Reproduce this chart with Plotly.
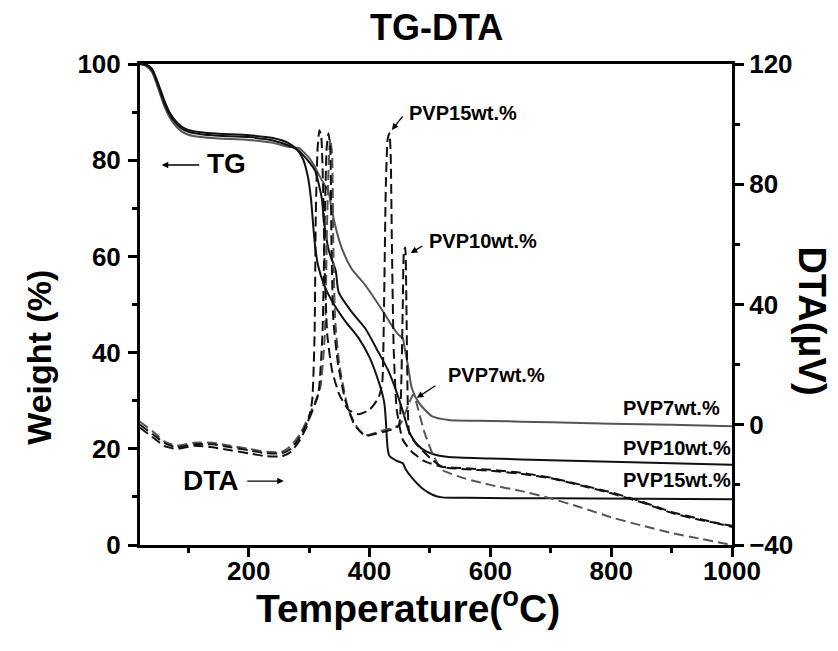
import plotly.graph_objects as go

# ---------------- data ----------------
# TG curves (left axis, Weight %)
tg15_x = [20, 30, 40, 50, 60, 70, 80, 90, 100, 120, 150, 200, 240, 265, 280, 290, 298, 303, 307, 310, 315, 325, 338, 360, 382, 400, 415, 422, 425, 427, 430, 433, 445, 455, 460, 470, 487, 505, 520, 560, 700, 850, 1000]
tg15_y = [100, 99.9, 99.0, 96.0, 92.5, 89.7, 88.0, 86.9, 86.3, 85.8, 85.5, 85.2, 84.6, 83.6, 82.2, 80.2, 76.5, 72, 66, 62, 58, 54, 50.7, 46.5, 43, 39, 34, 31, 29, 25.8, 20, 18.5, 17.5, 17, 15.7, 14, 11.8, 10.4, 9.9, 9.8, 9.7, 9.6, 9.5]

tg10_x = [20, 30, 40, 50, 60, 70, 80, 90, 100, 120, 150, 200, 240, 265, 280, 292, 302, 310, 316, 321, 324, 327, 333, 344, 349, 370, 393, 415, 432, 448, 457, 465, 478, 493, 510, 531, 600, 700, 800, 900, 1000]
tg10_y = [100, 99.8, 98.7, 95.6, 92.0, 89.3, 87.6, 86.5, 85.9, 85.4, 85.1, 84.8, 84.1, 83.1, 82.2, 80.8, 79.3, 77.8, 75, 72, 68, 65, 61, 57, 52.5, 48.5, 45, 40, 36, 30.6, 27, 23.7, 21, 19.5, 18.7, 18.3, 18.0, 17.6, 17.3, 17.0, 16.7]

tg7_x = [20, 30, 40, 50, 60, 70, 80, 90, 100, 120, 150, 200, 240, 265, 283, 300, 310, 316, 325, 332, 337, 345, 354, 370, 393, 420, 440, 448, 455, 458, 464, 470, 482, 503, 531, 600, 700, 800, 900, 1000]
tg7_y = [100, 99.6, 98.3, 95.0, 91.3, 88.7, 87.0, 85.9, 85.3, 84.8, 84.5, 84.2, 83.6, 82.8, 82.5, 80.5, 78.5, 77, 75, 73.5, 70, 65.5, 61.7, 57.5, 54, 49, 45, 43.7, 43, 41, 37, 32.6, 29.5, 26.8, 26, 25.8, 25.5, 25.2, 25.0, 24.7]

# DTA curves (right axis, microvolt)
dta15_x = [20, 40, 60, 80, 110, 140, 170, 200, 230, 255, 270, 285, 297, 305, 309, 311, 314, 317, 320, 323, 326, 330, 338, 350, 365, 382, 400, 415, 421, 424, 427, 430, 433, 435, 437, 440, 445, 455, 470, 490, 520, 560, 600, 650, 700, 750, 800, 850, 900, 950, 1000]
dta15_y = [-1, -4, -7, -8, -7, -7.5, -8.5, -9.5, -10.5, -10.5, -9, -5, 0, 8, 30, 70, 92, 98, 96, 80, 50, 30, 18, 10, 5, 3.5, 5, 9, 14, 40, 80, 95, 97, 90, 60, 25, 5, -5, -9, -12, -14, -14.5, -15, -16, -17.6, -20, -22.5, -25.5, -29, -31.5, -34]

dta10_x = [20, 40, 60, 80, 110, 140, 170, 200, 230, 255, 270, 285, 300, 315, 322, 326, 329, 332, 335, 337, 340, 348, 360, 375, 393, 410, 430, 448, 452, 455, 457, 459, 461, 463, 466, 480, 500, 520, 560, 600, 650, 700, 750, 800, 850, 900, 950, 1000]
dta10_y = [0, -3, -6, -7.5, -6.5, -6.5, -7.5, -8.5, -9.5, -9.5, -8, -4, 2, 10, 30, 70, 92, 97, 92, 60, 35, 20, 8, 0, -3.7, -3, -2, -0.5, 10, 40, 58, 59, 40, 10, -3, -7, -11, -14, -14.8, -15.3, -16.3, -17.8, -20.2, -22.8, -25.8, -29.3, -31.8, -33.6]

dta7_x = [20, 40, 60, 80, 110, 140, 170, 200, 230, 255, 270, 285, 300, 318, 326, 330, 333, 335, 338, 340, 343, 350, 365, 380, 393, 420, 450, 465, 472, 478, 490, 505, 520, 560, 600, 650, 700, 750, 800, 850, 900, 950, 1000]
dta7_y = [1, -2, -5.5, -7, -6, -6, -7, -8, -9, -9, -7, -3, 3, 12, 30, 70, 90, 95, 90, 60, 35, 20, 5, -1, -3.5, -2, 0, 7, 10, 7, -2, -10, -15, -18, -20, -22, -24.5, -27.5, -30.8, -33.5, -36, -38, -40]

x_ticks = [200, 400, 600, 800, 1000]
y_ticks = [0, 20, 40, 60, 80, 100]
y2_ticks = [-40, 0, 40, 80, 120]

BLACK = "#111111"
GRAY = "#555555"
FONT = "Liberation Sans, Arial, sans-serif"

fig = go.Figure()

for xs, ys, col in [(tg7_x, tg7_y, GRAY), (tg10_x, tg10_y, BLACK), (tg15_x, tg15_y, BLACK)]:
    fig.add_trace(go.Scatter(x=xs, y=ys, mode="lines", line=dict(color=col, width=2, shape="spline", smoothing=0.6),
                             showlegend=False, yaxis="y"))

for xs, ys, col in [(dta7_x, dta7_y, GRAY), (dta10_x, dta10_y, BLACK), (dta15_x, dta15_y, BLACK)]:
    fig.add_trace(go.Scatter(x=xs, y=ys, mode="lines", line=dict(color=col, width=2, dash="10px,5px", shape="spline", smoothing=0.5),
                             showlegend=False, yaxis="y2"))

axis_common = dict(showline=True, linecolor="black", linewidth=3, ticks="outside", tickwidth=3, ticklen=9,
                   tickcolor="black", showgrid=False, zeroline=False,
                   tickfont=dict(family=FONT, size=26, color="black", weight="bold"))

fig.update_layout(
    width=838, height=651,
    margin=dict(l=132, r=114, t=56, b=114),
    paper_bgcolor="white", plot_bgcolor="white",
    font=dict(family=FONT, color="black"),
    xaxis=dict(range=[20, 1000], tickvals=x_ticks, mirror=True, ticklabelstandoff=-8,
               minor=dict(dtick=100, ticklen=5, tickwidth=3, ticks="outside", tickcolor="black", tick0=0), **axis_common),
    yaxis=dict(range=[0, 100], tickvals=y_ticks, ticklabelstandoff=2,
               minor=dict(dtick=10, ticklen=5, tickwidth=3, ticks="outside", tickcolor="black", tick0=0), **axis_common),
    yaxis2=dict(range=[-40, 120], tickvals=y2_ticks, overlaying="y", side="right",
                minor=dict(dtick=20, ticklen=5, tickwidth=3, ticks="outside", tickcolor="black", tick0=0), **axis_common),
)

ann = []
def txt(x, y, s, size, xref="x", yref="y", xanchor="center", angle=0):
    ann.append(dict(x=x, y=y, xref=xref, yref=yref, text=s, showarrow=False, xanchor=xanchor, yanchor="middle",
                    textangle=angle, font=dict(family=FONT, size=size, color="black", weight="bold")))

def arrow(x, y, ax, ay):
    ann.append(dict(x=x, y=y, xref="x", yref="y", text="", showarrow=True, ax=ax, ay=ay,
                    arrowhead=2, arrowsize=1, arrowwidth=1.3, arrowcolor="black"))

# title and axis titles
txt(0.5, 1.075, "TG-DTA", 36, xref="paper", yref="paper")
txt(0.453, -0.125, "Temperature(<sup>o</sup>C)", 39, xref="paper", yref="paper")
txt(-0.17, 0.39, "Weight (%)", 34, xref="paper", yref="paper", angle=-90)
txt(1.135, 0.465, "DTA(μV)", 38, xref="paper", yref="paper", angle=90)

# in-plot labels
txt(163.6, 79.4, "TG", 28)
arrow(56, 79, 39, 0)
txt(137, 13.5, "DTA", 28)
arrow(258, 13.3, -38, 0)
txt(461.7, 89.8, "PVP15wt.%", 20, xanchor="left")
arrow(436.9, 86.3, 12, -15)
txt(494.8, 63.2, "PVP10wt.%", 20, xanchor="left")
arrow(468.3, 60.7, 13, -8)
txt(526.3, 35.3, "PVP7wt.%", 20, xanchor="left")
arrow(478.3, 30.6, 20, -13)
txt(817, 28.5, "PVP7wt.%", 20, xanchor="left")
txt(817, 20.2, "PVP10wt.%", 20, xanchor="left")
txt(817, 13.5, "PVP15wt.%", 20, xanchor="left")

fig.update_layout(annotations=ann)
fig.write_html("out.html")
